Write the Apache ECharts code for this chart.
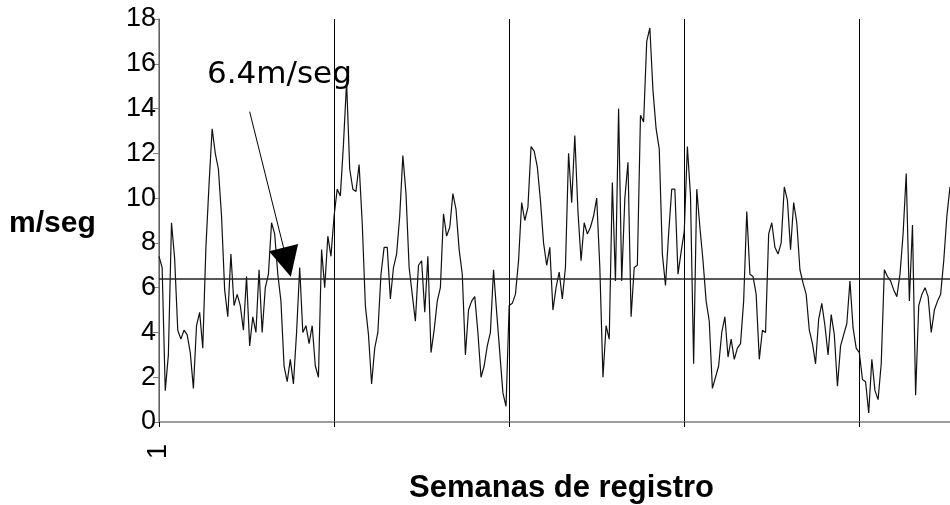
<!DOCTYPE html>
<html>
<head>
<meta charset="utf-8">
<script src="https://cdn.jsdelivr.net/npm/echarts@6/dist/echarts.min.js"></script>
<style>
  html, body { margin: 0; padding: 0; background: #fff; }
  #chart { width: 950px; height: 505px; }
</style>
</head>
<body>
<div id="chart"></div>
<script>
// velocidad del viento, 8 lecturas por dia (56 por semana)
const speeds = [
  7.4, 6.9, 1.4, 3.0, 8.9, 7.3, 4.1, 3.7, 4.1, 3.9, 3.1, 1.5, 4.3, 4.9, 3.3, 7.8,
  10.6, 13.1, 12.0, 11.3, 9.2, 5.9, 4.7, 7.5, 5.2, 5.7, 5.2, 4.1, 6.5, 3.4, 4.7, 4.0,
  6.8, 4.0, 6.0, 6.6, 8.9, 8.4, 6.6, 5.4, 2.5, 1.8, 2.8, 1.7, 4.0, 6.9, 4.0, 4.3,
  3.5, 4.3, 2.5, 2.0, 7.7, 6.0, 8.3, 7.4, 9.2, 10.4, 10.1, 12.4, 15.2, 11.3, 10.4, 10.3,
  11.5, 8.9, 5.2, 3.9, 1.7, 3.3, 4.0, 6.6, 7.8, 7.8, 5.5, 6.9, 7.5, 9.2, 11.9, 10.2,
  6.9, 5.7, 4.5, 7.0, 7.2, 4.9, 7.4, 3.1, 4.1, 5.4, 6.0, 9.3, 8.3, 8.7, 10.2, 9.5,
  7.7, 6.6, 3.0, 5.0, 5.4, 5.6, 4.0, 2.0, 2.5, 3.4, 4.0, 6.8, 4.9, 3.1, 1.3, 0.7,
  5.2, 5.3, 5.7, 7.2, 9.8, 9.0, 9.6, 12.3, 12.1, 11.4, 9.9, 8.0, 7.0, 7.8, 5.0, 6.0,
  6.7, 5.5, 6.9, 12.0, 9.8, 12.8, 9.4, 7.2, 8.9, 8.4, 8.7, 9.2, 10.0, 6.9, 2.0, 4.3,
  3.7, 10.7, 6.3, 14.0, 6.3, 10.0, 11.6, 4.7, 6.9, 7.0, 13.7, 13.4, 17.0, 17.6, 14.8, 13.1,
  12.2, 7.5, 6.1, 8.4, 10.4, 10.4, 6.6, 7.6, 8.5, 12.3, 10.1, 2.6, 10.4, 8.7, 7.2, 5.4,
  4.5, 1.5, 2.0, 2.5, 4.0, 4.7, 2.9, 3.7, 2.8, 3.3, 3.5, 5.4, 9.4, 6.6, 6.5, 5.7,
  2.8, 4.1, 4.0, 8.4, 8.9, 7.8, 7.5, 8.0, 10.5, 9.9, 7.7, 9.8, 8.9, 6.8, 6.2, 5.7,
  4.1, 3.5, 2.6, 4.6, 5.3, 4.3, 3.0, 4.8, 3.9, 1.6, 3.4, 3.9, 4.4, 6.3, 4.2, 3.3,
  3.1, 1.9, 1.8, 0.4, 2.8, 1.4, 1.0, 2.6, 6.8, 6.5, 6.3, 5.9, 5.6, 6.6, 8.4, 11.1,
  5.4, 8.8, 1.2, 5.2, 5.7, 6.0, 5.6, 4.0, 5.0, 5.4, 5.7, 7.2, 9.2, 10.5
];
const readings = speeds.map((v, i) => String(i + 1));
const yTicks = [0, 2, 4, 6, 8, 10, 12, 14, 16, 18];
const limite = 6.4;
const perWeek = 56;

const chart = echarts.init(document.getElementById("chart"));
const option = {
  animation: false,
  grid: { left: 159, top: 19, right: 0, bottom: 83 },
  xAxis: {
    type: "category",
    boundaryGap: false,
    data: readings,
    axisLine: { lineStyle: { color: "#808080", width: 1.5 } },
    axisTick: { show: true, interval: perWeek - 1, length: 5, lineStyle: { color: "#000" } },
    splitLine: { show: true, interval: perWeek - 1, lineStyle: { color: "#000", width: 1 } },
    axisLabel: {
      interval: perWeek - 1,
      rotate: 90,
      margin: 22,
      color: "#000",
      fontSize: 27,
      fontFamily: "Liberation Sans",
      formatter: (val, idx) => (idx === 0 ? val : "")
    }
  },
  yAxis: {
    type: "value",
    min: yTicks[0],
    max: yTicks[yTicks.length - 1],
    interval: 2,
    axisLine: { show: true, lineStyle: { color: "#808080", width: 1.5 } },
    axisTick: { show: true, length: 6, lineStyle: { color: "#808080" } },
    splitLine: { show: false },
    axisLabel: {
      margin: 3,
      color: "#000",
      fontSize: 27,
      fontFamily: "Liberation Sans"
    }
  },
  series: [
    {
      type: "line",
      data: speeds,
      symbol: "none",
      lineStyle: { color: "#111", width: 1.2 },
      markLine: {
        silent: true,
        animation: false,
        symbol: ["none", "none"],
        label: { show: false },
        lineStyle: { color: "#000", width: 1, type: "solid" },
        data: [
          {
            yAxis: limite,
            lineStyle: { color: "#222", width: 1.5, type: "solid" }
          },
          [
            { coord: [29.3, 13.86] },
            {
              coord: [40.6, 7.14],
              symbol: "triangle",
              symbolSize: [30, 30]
            }
          ]
        ]
      }
    }
  ],
  graphic: [
    {
      type: "text",
      left: 9,
      top: 209,
      style: { text: "m/seg", font: "bold 30px Liberation Sans", fill: "#000" }
    },
    {
      type: "text",
      left: 207,
      top: 59,
      style: { text: limite + "m/seg", font: "31px DejaVu Sans", fill: "#000" }
    },
    {
      type: "text",
      left: 409,
      top: 473,
      style: { text: "Semanas de registro", font: "bold 31px Liberation Sans", fill: "#000" }
    }
  ]
};
chart.setOption(option);
</script>
</body>
</html>
